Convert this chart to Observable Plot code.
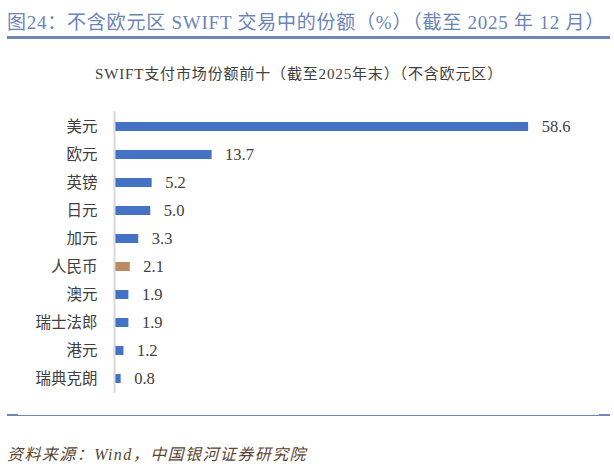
<!DOCTYPE html>
<html><head><meta charset="utf-8">
<script src="https://cdn.jsdelivr.net/npm/d3@7"></script>
<script src="https://cdn.jsdelivr.net/npm/@observablehq/plot@0.6"></script>
<style>
body{margin:0;width:614px;height:470px;background:#fff;position:relative;overflow:hidden;font-family:"Liberation Serif","Noto Sans CJK SC",serif;}
#title{position:absolute;left:7px;top:7px;font-size:19px;color:#6b84b8;white-space:nowrap;}
#tline{position:absolute;left:7px;top:36px;width:603px;height:3px;background:#6f88b8;}
#sub{position:absolute;left:95px;top:62px;font-size:15px;color:#404040;white-space:nowrap;}
#chart{position:absolute;left:0;top:95px;}
#bline{position:absolute;left:7px;top:415px;width:603px;height:1px;background:#6f88b8;}
.bend{position:absolute;top:414px;width:11px;height:2px;background:#6f88b8;}
#foot{position:absolute;left:7px;top:441px;font-size:16px;font-style:italic;color:#5a4632;white-space:nowrap;}
</style></head>
<body>
<div id="title">图24：不含欧元区 SWIFT 交易中的份额（%）（截至 2025 年 12 月）</div>
<div id="tline"></div>
<div id="sub">SWIFT支付市场份额前十（截至2025年末）（不含欧元区）</div>
<div id="chart"></div>
<div id="bline"></div>
<div class="bend" style="left:7px"></div>
<div class="bend" style="left:599px"></div>
<div id="foot">资料来源：Wind，中国银河证券研究院</div>
<script>
const currencies = ["美元","欧元","英镑","日元","加元","人民币","澳元","瑞士法郎","港元","瑞典克朗"];
const shares = [58.6,13.7,5.2,5.0,3.3,2.1,1.9,1.9,1.2,0.8];
const highlight = "人民币";

const data = currencies.map((c,i)=>({c, v: shares[i]}));

const chart = Plot.plot({
  width: 614,
  height: 310,
  marginLeft: 115,
  marginRight: 76,
  marginTop: 16,
  marginBottom: 12,
  style: {fontFamily: '"Liberation Serif","Noto Sans CJK SC",serif', fontSize: "15.5px", color: "#404040", background: "transparent"},
  x: {domain: [0, 60], axis: null},
  y: {domain: currencies, paddingInner: 0.68, paddingOuter: 0.34, label: null, tickSize: 0, tickPadding: 18},
  marks: [
    Plot.barX(data, {x: "v", y: "c", fill: d => d.c === highlight ? "#bb8a60" : "#4472c4"}),
    Plot.ruleX([0], {stroke: "#d9d9d9", strokeWidth: 2, dx: -1}),
    Plot.text(data, {x: "v", y: "c", text: d => d.v.toFixed(1), textAnchor: "start", dx: 13, fill: "#404040", fontSize: 16.5})
  ]
});
document.getElementById("chart").appendChild(chart);

function fit(id, target){
  const el = document.getElementById(id);
  const n = [...el.textContent].length;
  const w = el.getBoundingClientRect().width;
  el.style.letterSpacing = ((target - w) / n) + "px";
}
fit("title", 598);
fit("sub", 408);
fit("foot", 300);
</script>
</body></html>
